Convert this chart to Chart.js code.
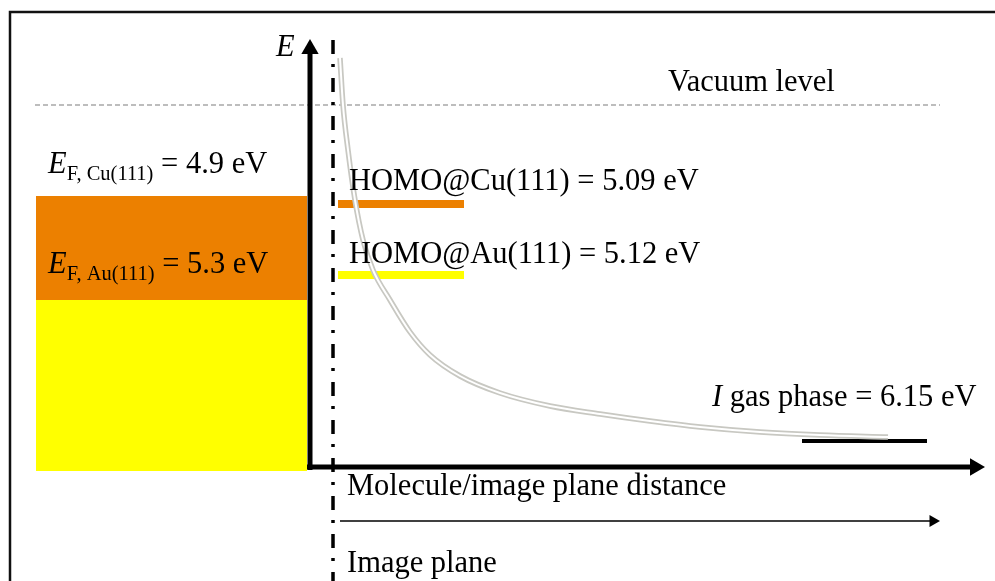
<!DOCTYPE html>
<html>
<head>
<meta charset="utf-8">
<script src="https://cdn.jsdelivr.net/npm/chart.js@4"></script>
<style>
  body { margin: 0; background: #fff; }
  #wrap { width: 995px; height: 581px; position: relative; }
</style>
</head>
<body>
<div id="wrap"><canvas id="chart"></canvas></div>
<script>
// schematic units: x = distance from the image plane, y = energy relative to the vacuum level
const curveX = [0.7, 1.0, 1.5, 2.2, 3.0, 4.0, 5.7, 7.7, 9.7, 12.7, 16.7, 21.7, 26.7, 31.7, 36.7, 42.7, 48.7, 55.5];
const curveY = [4.7, 0, -4.5, -9.5, -13.5, -16.5, -19.5, -22.7, -25.0, -27.1, -28.8, -30.1, -30.9, -31.6, -32.2, -32.7, -33.0, -33.2];

const vacuumLevel = 0;
const vacuumSpan = [-29.8, 60.7];

const metalSpan = [-29.7, -2.6];
const fermiCu = -9.1;   // E_F Cu(111) = 4.9 eV
const fermiAu = -19.5;  // E_F Au(111) = 5.3 eV
const metalBottom = -36.6;

const homoSpan = [0.5, 13.1];
const homoCu = -9.9;    // 5.09 eV
const homoAu = -17.0;   // 5.12 eV

const gasSpan = [46.9, 59.4];
const gasLevel = -33.6; // 6.15 eV

const yAxisX = -2.3;
const yAxisSpan = [-36.5, 5.5];
const xAxisY = -36.2;
const xAxisSpan = [-2.6, 64.1];
const distY = -41.6;
const distSpan = [0.7, 60.0];
const planeSpan = [6.5, -47.6];

const frameX = -32.3;
const frameTop = 9.3;

const pts = (xs, ys) => xs.map((x, i) => ({x: x, y: ys[i]}));
const hline = (span, y) => [{x: span[0], y: y}, {x: span[1], y: y}];
const vline = (x, span) => [{x: x, y: span[0]}, {x: x, y: span[1]}];

const orange = 'rgb(236,128,0)';
const yellow = 'rgb(255,255,0)';

const serif = '"Liberation Serif", "Times New Roman", serif';
const labels = [
  {x: 33.5, y: 1.4, parts: [['Vacuum level', 'n']]},
  {x: 1.6, y: -8.5, parts: [['HOMO@Cu(111) = 5.09 eV', 'n']]},
  {x: 1.6, y: -15.8, parts: [['HOMO@Au(111) = 5.12 eV', 'n']]},
  {x: 37.9, y: -30.1, parts: [['I', 'i'], [' gas phase = 6.15 eV', 'n']]},
  {x: -28.5, y: -6.8, parts: [['E', 'i'], ['F, Cu(111)', 's'], [' = 4.9 eV', 'n']]},
  {x: -28.5, y: -16.8, parts: [['E', 'i'], ['F, Au(111)', 's'], [' = 5.3 eV', 'n']]},
  {x: 1.4, y: -39.0, parts: [['Molecule/image plane distance', 'n']]},
  {x: 1.4, y: -46.7, parts: [['Image plane', 'n']]},
  {x: -5.7, y: 4.9, parts: [['E', 'i']]}
];

const textPlugin = {
  id: 'texts',
  afterDatasetsDraw(chart) {
    const ctx = chart.ctx;
    const sx = chart.scales.x, sy = chart.scales.y;
    ctx.save();
    ctx.fillStyle = '#000';
    ctx.textBaseline = 'alphabetic';
    ctx.textAlign = 'left';
    labels.forEach(l => {
      let px = sx.getPixelForValue(l.x);
      const py = sy.getPixelForValue(l.y);
      l.parts.forEach(p => {
        let off = 0;
        if (p[1] === 'i') ctx.font = 'italic 30.5px ' + serif;
        else if (p[1] === 's') { ctx.font = '20.5px ' + serif; off = 7; }
        else ctx.font = '30.5px ' + serif;
        ctx.fillText(p[0], px, py + off);
        px += ctx.measureText(p[0]).width;
      });
    });
    ctx.restore();
  }
};

const lineDs = (data, color, width, order, extra) => Object.assign({
  data: data, borderColor: color, borderWidth: width, pointRadius: 0,
  fill: false, tension: 0, order: order
}, extra || {});

new Chart(document.getElementById('chart'), {
  type: 'line',
  data: {
    datasets: [
      // metal bands
      lineDs(hline(metalSpan, fermiCu), 'rgba(0,0,0,0)', 0, 20, {fill: {value: fermiAu}, backgroundColor: orange}),
      lineDs(hline(metalSpan, fermiAu), 'rgba(0,0,0,0)', 0, 20, {fill: {value: metalBottom}, backgroundColor: yellow}),
      // frame
      lineDs([{x: frameX, y: planeSpan[1]}, {x: frameX, y: frameTop}, {x: 66.2, y: frameTop}], '#111', 2.5, 15),
      // vacuum level
      lineDs(hline(vacuumSpan, vacuumLevel), '#a8a8a8', 1.4, 14, {borderDash: [5, 3]}),
      // image plane
      lineDs(vline(0, planeSpan), '#000', 3.5, 13, {borderDash: [14, 10, 3, 11]}),
      // levels
      lineDs(hline(homoSpan, homoCu), orange, 8, 12),
      lineDs(hline(homoSpan, homoAu), yellow, 8, 12),
      lineDs(hline(gasSpan, gasLevel), '#000', 4, 12),
      // axes
      lineDs(vline(yAxisX, yAxisSpan), '#000', 5, 11),
      lineDs(hline(xAxisSpan, xAxisY), '#000', 5, 11),
      lineDs(hline(distSpan, distY), '#000', 1.5, 11),
      // arrow heads
      {data: [{x: yAxisX, y: 5.6}, {x: 64.2, y: xAxisY}], showLine: false, pointStyle: 'triangle',
       pointRadius: 10, pointRotation: [0, 90], backgroundColor: '#000', borderWidth: 0, order: 10},
      {data: [{x: 60.0, y: distY}], showLine: false, pointStyle: 'triangle',
       pointRadius: 7, pointRotation: 90, backgroundColor: '#000', borderWidth: 0, order: 10},
      // image potential curve (double line)
      lineDs(pts(curveX, curveY), 'rgb(200,200,194)', 5.5, 2, {cubicInterpolationMode: 'monotone'}),
      lineDs(pts(curveX, curveY), '#fff', 2, 1, {cubicInterpolationMode: 'monotone'})
    ]
  },
  options: {
    responsive: true,
    maintainAspectRatio: false,
    animation: false,
    layout: { padding: 0, autoPadding: false },
    scales: {
      x: { type: 'linear', min: -33.3, max: 66.2, display: false },
      y: { type: 'linear', min: -47.6, max: 10.5, display: false }
    },
    plugins: {
      legend: { display: false },
      tooltip: { enabled: false }
    },
    elements: { line: { borderCapStyle: 'butt' } }
  },
  plugins: [textPlugin]
});
</script>
</body>
</html>
